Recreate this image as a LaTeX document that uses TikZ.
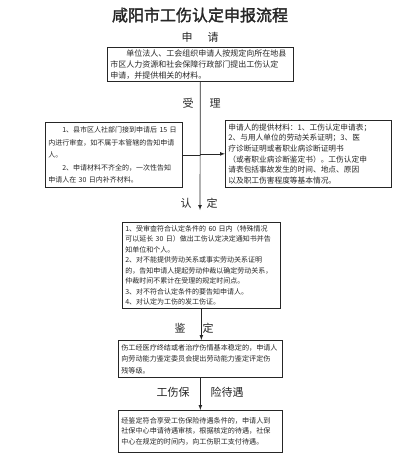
\documentclass[tikz,border=0pt]{standalone}
\usepackage{fontspec}
\setmainfont{Noto Sans CJK SC}
\newfontfamily\titlefont[FakeBold=2]{Noto Sans CJK SC}
\XeTeXlinebreaklocale "zh"
\XeTeXlinebreakskip = 0pt plus 1pt

\tikzset{
  box/.style={draw, line width=0.7pt, anchor=north west, align=left, inner xsep=3pt, inner ysep=2pt},
  lab/.style={font=\fontsize{11}{11}\selectfont},
  link/.style={line width=0.7pt},
}

\begin{document}
\begin{tikzpicture}[x=1pt,y=-1pt,color=black!85]
  \useasboundingbox (0,0) rectangle (400,463);
  \node[font=\titlefont\fontsize{16}{16}\selectfont] (title) at (200,15) {咸阳市工伤认定申报流程};
  \node[lab] (sq1) at (187,37) {申};
  \node[lab] (sq2) at (213,37) {请};
  \node[box, text width=180pt, minimum height=33pt, font=\fontsize{8}{11}\selectfont] (apply) at (107,47)
    {\hspace*{2em}单位法人、工会组织申请人按规定向所在地县\\市区人力资源和社会保障行政部门提出工伤认定\\申请，并提供相关的材料。};
  \node[lab] (sl1) at (188,103) {受};
  \node[lab] (sl2) at (215,103) {理};
  \node[box, text width=131pt, minimum height=65pt, font=\fontsize{7}{12.5}\selectfont] (accept) at (45,122)
    {\hspace*{2em}1、县市区人社部门接到申请后 15 日\\内进行审查，如不属于本管辖的告知申请\\人。\\\hspace*{2em}2、申请材料不齐全的，一次性告知\\申请人在 30 日内补齐材料。};
  \node[box, text width=160pt, minimum height=67pt, font=\fontsize{7.7}{10.6}\selectfont] (material) at (225,120)
    {申请人的提供材料：1、工伤认定申请表；\\2、与用人单位的劳动关系证明；3、医\\疗诊断证明或者职业病诊断证明书\\（或者职业病诊断鉴定书）。工伤认定申\\请表包括事故发生的时间、地点、原因\\以及职工伤害程度等基本情况。};
  \node[lab] (rd1) at (186,203) {认};
  \node[lab] (rd2) at (212,203) {定};
  \coordinate (rd) at (200,210);
  \node[box, text width=152pt, minimum height=86pt, font=\fontsize{7}{10.5}\selectfont] (decide) at (122,222)
    {1、受审查符合认定条件的 60 日内（特殊情况\\可以延长 30 日）做出工伤认定决定通知书并告\\知单位和个人。\\2、对不能提供劳动关系或事实劳动关系证明\\的，告知申请人提起劳动仲裁以确定劳动关系，\\仲裁时间不累计在受理的规定时间点。\\3、对不符合认定条件的要告知申请人。\\4、对认定为工伤的发工伤证。};
  \node[lab] (jd1) at (180,328) {鉴};
  \node[lab] (jd2) at (208,328) {定};
  \node[box, text width=158pt, minimum height=37pt, font=\fontsize{7.1}{11.5}\selectfont] (assess) at (118,340)
    {伤工经医疗终结或者治疗伤情基本稳定的，申请人\\向劳动能力鉴定委员会提出劳动能力鉴定评定伤\\残等级。};
  \node[lab] (dy1) at (173,392) {工伤保};
  \node[lab] (dy2) at (227,392) {险待遇};
  \node[box, text width=158pt, minimum height=42pt, font=\fontsize{7.1}{10.5}\selectfont] (treat) at (118,410)
    {经鉴定符合享受工伤保险待遇条件的，申请人到\\社保中心申请待遇审核，根据核定的待遇，社保\\中心在规定的时间内，向工伤职工支付待遇。};
  \draw[link,-latex] (apply.south) -- (rd);
  \draw[link] (accept.east) -- (accept.east -| apply.south);
  \draw[link,-latex] (material.west -| apply.south) -- (material.west);
  \draw[link,-latex] (decide.south) -- (decide.south |- assess.north);
  \draw[link,-latex] (assess.south) -- (treat.north);
\end{tikzpicture}
\end{document}
